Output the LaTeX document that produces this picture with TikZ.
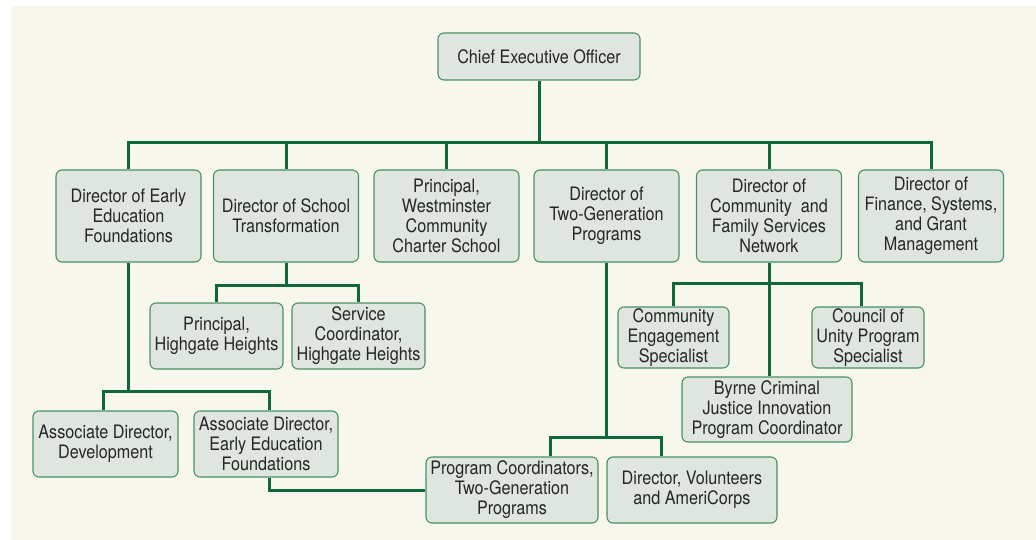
\documentclass[tikz,border=0pt]{standalone}
\usepackage{fontspec}
\setmainfont[FakeStretch=0.875]{TeX Gyre Heros}
\definecolor{bgcream}{RGB}{247,247,238}
\definecolor{boxfill}{RGB}{223,229,223}
\definecolor{boxline}{RGB}{72,146,98}
\definecolor{linkgreen}{RGB}{16,104,56}
\definecolor{boxtext}{RGB}{38,38,38}
\tikzset{
  box/.style={draw=boxline, fill=boxfill, rounded corners=6pt, line width=1.1pt,
    inner sep=0pt, align=center, text=boxtext, font=\fontsize{18.5}{20}\selectfont},
  link/.style={draw=linkgreen, line width=3pt}
}
\begin{document}
\begin{tikzpicture}[x=1pt,y=-1pt]
			\def\W{145pt}
			\useasboundingbox (0,0) rectangle (1036,540);
			\fill [bgcream] (11,6) rectangle (1036,540);
			\node [box, minimum width=202pt, minimum height=47pt] (ceo) at (539,56.5) {Chief Executive Officer};
			% first row
			\node [box, minimum width=\W, minimum height=92pt] (eef) at (128.5,216) {Director of Early\\Education\\Foundations};
			\node [box, minimum width=\W, minimum height=92pt] (sct) at (286,216) {Director of School\\Transformation};
			\node [box, minimum width=\W, minimum height=92pt] (wcs) at (446.5,216) {Principal,\\Westminster\\Community\\Charter School};
			\node [box, minimum width=\W, minimum height=92pt] (tgp) at (606.5,216) {Director of\\Two-Generation\\Programs};
			\node [box, minimum width=\W, minimum height=92pt] (cfs) at (769,216) {Director of\\Community\ \ and\\Family Services\\Network};
			\node [box, minimum width=\W, minimum height=92pt] (fsg) at (931,216) {Director of\\Finance, Systems,\\and Grant\\Management};
			\coordinate (bus) at (539,143);
			\draw [link] (ceo.south) -- (bus);
			\foreach \n in {eef,sct,wcs,tgp,cfs,fsg}
				\draw [link] (bus) -| (\n.north);
			% school transformation
			\node [box, minimum width=133pt, minimum height=66pt] (phh) at (216.5,336) {Principal,\\Highgate Heights};
			\node [box, minimum width=133pt, minimum height=66pt] (sch) at (358.5,336) {Service\\Coordinator,\\Highgate Heights};
			\draw [link] (sct.south) -- ++(0,23) coordinate (sbus) -| (phh.north);
			\draw [link] (sbus) -| (sch.north);
			% early education
			\node [box, minimum width=\W, minimum height=66pt] (add) at (105.5,444) {Associate Director,\\Development};
			\node [box, minimum width=144pt, minimum height=66pt] (aee) at (266,444) {Associate Director,\\Early Education\\Foundations};
			\draw [link] (eef.south) -- ++(0,129) coordinate (ebus) -| ([xshift=-2pt]add.north);
			\draw [link] (ebus) -| ([xshift=3pt]aee.north);
			% community and family services
			\node [box, minimum width=111pt, minimum height=61pt] (ces) at (673.5,337.5) {Community\\Engagement\\Specialist};
			\node [box, minimum width=112pt, minimum height=61pt] (cup) at (868,337.5) {Council of\\Unity Program\\Specialist};
			\node [box, minimum width=170pt, minimum height=65pt] (byr) at (767,409.5) {Byrne Criminal\\Justice Innovation\\Program Coordinator};
			\draw [link] (cfs.south) -- (cfs.south |- byr.north);
			\draw [link] (cfs.south) ++(0,21) coordinate (cbus) -| (ces.north);
			\draw [link] (cbus) -| ([xshift=-7pt]cup.north);
			% two-generation
			\node [box, minimum width=172pt, minimum height=66pt] (pct) at (512,490) {Program Coordinators,\\Two-Generation\\Programs};
			\node [box, minimum width=170pt, minimum height=66pt] (dva) at (692,490) {Director, Volunteers\\and AmeriCorps};
			\draw [link] (tgp.south) -- ++(0,175) coordinate (tbus) -| ([xshift=38pt]pct.north);
			\draw [link] (tbus) -| ([xshift=-31pt]dva.north);
			\draw [link] ([xshift=3pt]aee.south) |- (pct.west);
		\end{tikzpicture}
\end{document}
